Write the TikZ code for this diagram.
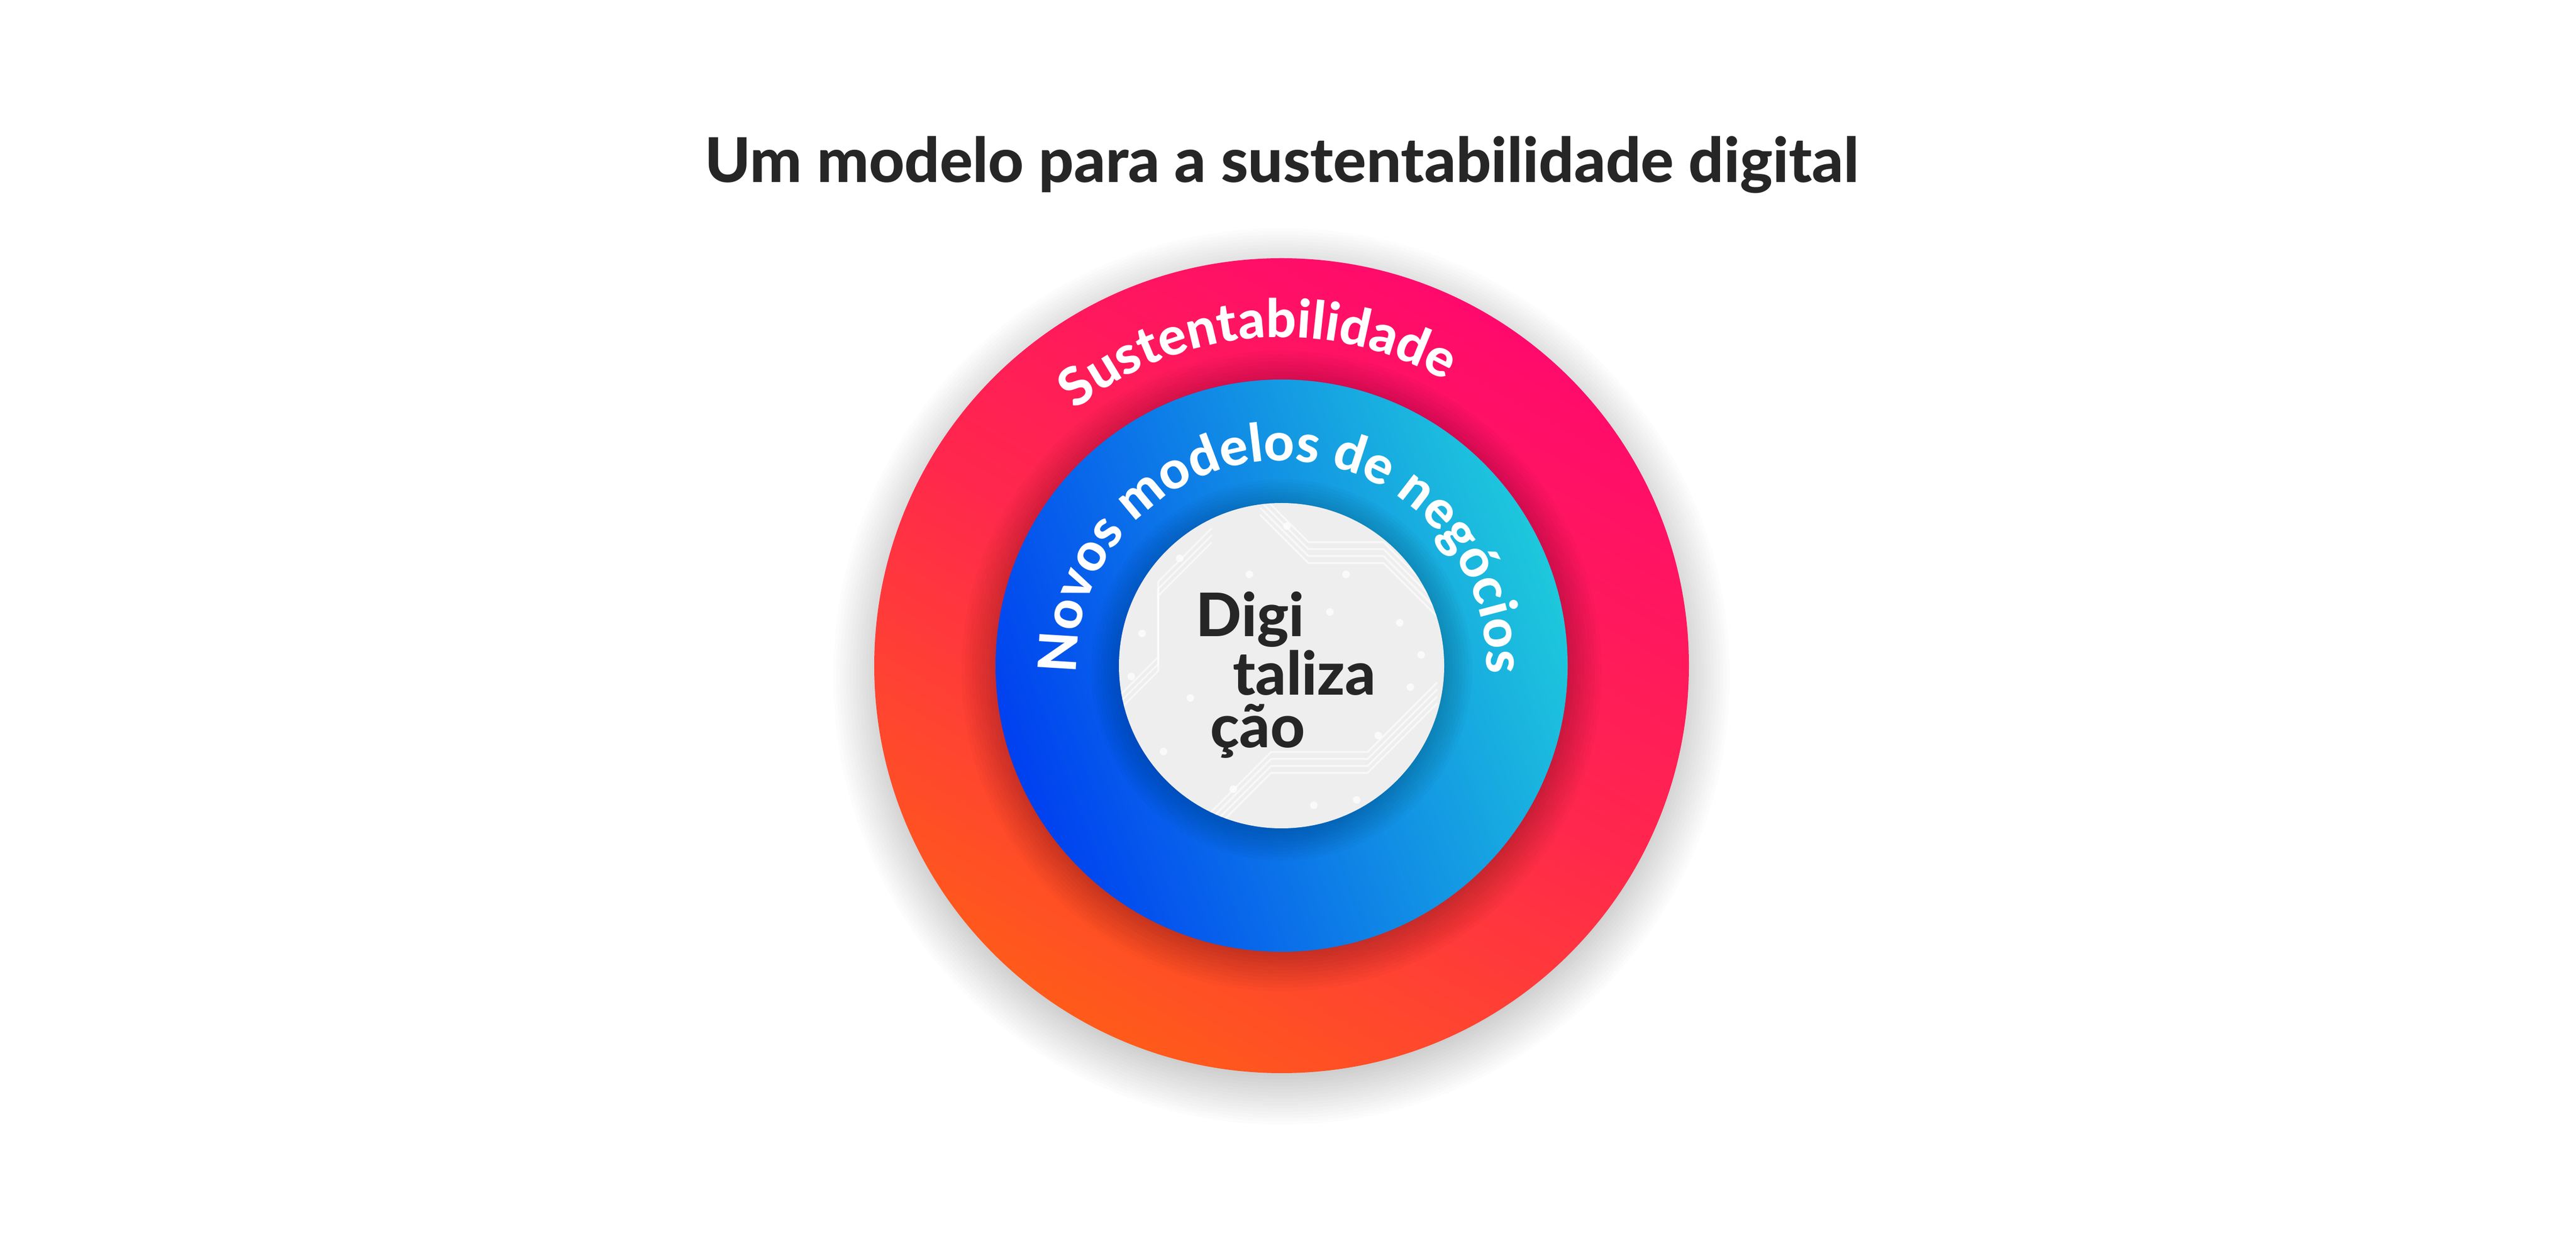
\documentclass[tikz,border=0pt]{standalone}
\usepackage{fontspec}
\setmainfont{Lato}[BoldFont={Lato Heavy}]
\usetikzlibrary{decorations.text}
\definecolor{ringpink}{RGB}{255,10,108}
\definecolor{ringred}{RGB}{255,40,76}
\definecolor{ringorange}{RGB}{255,90,26}
\definecolor{ringblue}{RGB}{0,64,240}
\definecolor{ringcyan}{RGB}{30,200,220}
\definecolor{corefill}{RGB}{238,238,238}
\definecolor{inkcolor}{RGB}{38,38,38}
\newcommand{\ringfont}{\bfseries\fontsize{28}{30}\selectfont\color{white}}

\begin{document}
\begin{tikzpicture}[
    ringtext/.style={decorate, decoration={text along path, text align=center, text={#1}}},
    corelabel/.style={anchor=base west, inner sep=0pt, text=inkcolor, font=\bfseries\fontsize{31.8}{31.8}\selectfont},
    trace/.style={white, opacity=0.6, line width=0.035cm, line join=round},
  ]
  % Canvas
  \fill[white] (0,0) rectangle (48,23.2);
  \useasboundingbox (0,0) rectangle (48,23.2);
  \coordinate (c) at (23.88,10.80);

  % Title
  \node[anchor=base, inner sep=0pt, text=inkcolor, font=\bfseries\fontsize{32.7}{32.7}\selectfont] (title) at (23.89,19.80) {Um modelo para a sustentabilidade digital};

  % Outer ring with its soft shadow
  \foreach \k in {0,...,15}
    \fill[black, opacity=0.012] ([yshift=-0.2cm]c) circle ({7.45+\k*0.06});
  \shade[top color=ringpink, bottom color=ringorange, middle color=ringred, shading angle=-30] (c) circle (7.59);

  % Middle ring
  \foreach \k in {0,...,11}
    \fill[black, opacity=0.02] ([yshift=-0.1cm]c) circle ({5.25+\k*0.065});
  \shade[left color=ringblue, right color=ringcyan, shading angle=110] (c) circle (5.33);

  % Core disc
  \foreach \k in {0,...,10}
    \fill[black, opacity=0.02] ([yshift=-0.08cm]c) circle ({2.95+\k*0.06});
  \fill[corefill] (c) circle (3.03);
  \begin{scope}[shift={(c)}]
    \clip (0,0) circle (3.03);
    \foreach \d in {0,0.13,0.26,0.39}
      \draw[trace] (-0.4,3.2-\d) -- (0.5,2.3-\d) -- (1.9,2.3-\d) -- (3.1,1.1-\d);
    \foreach \d in {0,0.13,0.26}
      \draw[trace] (-3.1,-0.9+\d) -- (-2.3,-0.1+\d) -- (-2.3,1.3+\d) -- (-1.3,2.3+\d);
    \foreach \d in {0,0.13,0.26,0.39}
      \draw[trace] (-1.4,-3.2+\d) -- (-0.2,-2.0+\d) -- (1.6,-2.0+\d) -- (2.9,-0.7+\d);
    \foreach \p in {(-1.9,2.0),(0.1,2.6),(1.2,1.7),(2.2,0.8),(-2.6,0.6),(-1.7,-0.6),
                    (2.4,-0.4),(1.8,-1.3),(-0.9,-2.3),(0.6,-2.6),(-2.2,-1.6),(1.4,-2.5),
                    (2.6,0.2),(-0.6,1.7),(-2.8,-0.2),(0.9,1.0)}
      \fill[white, opacity=0.75] \p circle (0.07);
  \end{scope}

  % Ring labels
  \path[ringtext={|\ringfont|Sustentabilidade}] ([shift={(184.5:6.12)}]c) arc (184.5:4.5:6.12);
  \path[ringtext={|\ringfont|Novos modelos de negócios}] ([shift={(200:3.82)}]c) arc (200:-20:3.82);

  % Core label
  \node[corelabel] (digi) at (22.28,11.34) {Digi};
  \node[corelabel] (taliza) at (22.97,10.25) {taliza};
  \node[corelabel] (cao) at (22.55,9.27) {ção};
\end{tikzpicture}
\end{document}
